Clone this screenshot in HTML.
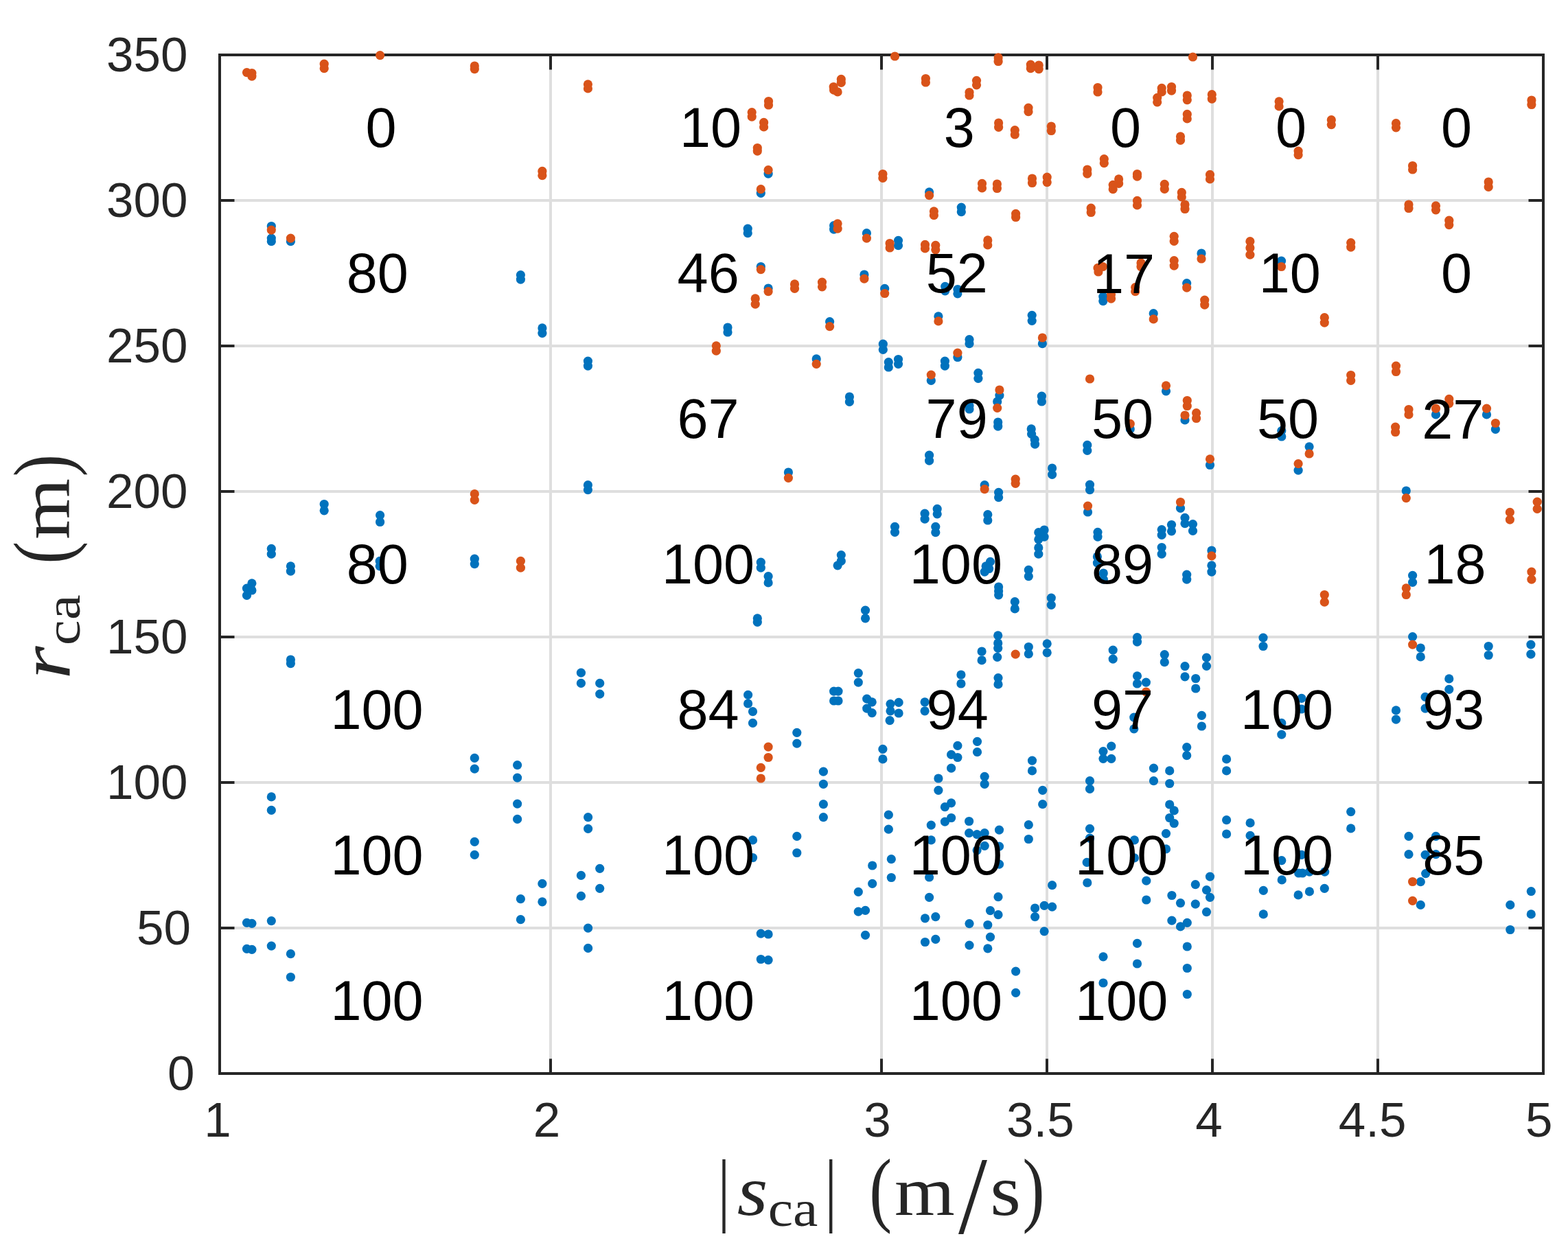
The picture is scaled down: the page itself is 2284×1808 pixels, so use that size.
<!DOCTYPE html><html><head><meta charset="utf-8"><style>html,body{margin:0;padding:0;background:#fff;overflow:hidden}svg{display:block}</style></head><body>
<svg width="2284" height="1808" viewBox="0 0 2284 1808">
<rect width="100%" height="100%" fill="#fff"/>
<path d="M802.0 80V1564M1284.0 80V1564M1525.0 80V1564M1766.0 80V1564M2007.0 80V1564M320 1352.0H2248M320 1140.0H2248M320 928.0H2248M320 716.0H2248M320 504.0H2248M320 292.0H2248" stroke="#dedede" stroke-width="4" fill="none"/>
<path d="M320 80H2248V1564H320Z" stroke="#262626" stroke-width="4" fill="none" stroke-linecap="square"/>
<path d="M802.0 1564v-21.5M802.0 80v21.5M1284.0 1564v-21.5M1284.0 80v21.5M1525.0 1564v-21.5M1525.0 80v21.5M1766.0 1564v-21.5M1766.0 80v21.5M2007.0 1564v-21.5M2007.0 80v21.5M320 1352.0h21.5M2248 1352.0h-21.5M320 1140.0h21.5M2248 1140.0h-21.5M320 928.0h21.5M2248 928.0h-21.5M320 716.0h21.5M2248 716.0h-21.5M320 504.0h21.5M2248 504.0h-21.5M320 292.0h21.5M2248 292.0h-21.5" stroke="#262626" stroke-width="4" fill="none"/>
<g fill="#0072bd"><circle cx="395.3" cy="329.5" r="6.6"/><circle cx="395.3" cy="347.1" r="6.6"/><circle cx="395.3" cy="351.7" r="6.6"/><circle cx="423.4" cy="351.7" r="6.6"/><circle cx="1089.2" cy="333.2" r="6.6"/><circle cx="1089.2" cy="339.7" r="6.6"/><circle cx="1119.1" cy="253.1" r="6.6"/><circle cx="1108.3" cy="281.3" r="6.6"/><circle cx="1353.6" cy="279.8" r="6.6"/><circle cx="1400.3" cy="302.1" r="6.6"/><circle cx="1400.3" cy="308.7" r="6.6"/><circle cx="1214.6" cy="328.6" r="6.6"/><circle cx="1214.6" cy="334.1" r="6.6"/><circle cx="1262.4" cy="339.7" r="6.6"/><circle cx="1308.5" cy="350.3" r="6.6"/><circle cx="1308.5" cy="357.7" r="6.6"/><circle cx="758.4" cy="400.6" r="6.6"/><circle cx="758.4" cy="407.1" r="6.6"/><circle cx="789.9" cy="477.9" r="6.6"/><circle cx="789.9" cy="485.3" r="6.6"/><circle cx="856.4" cy="526.1" r="6.6"/><circle cx="856.4" cy="533.1" r="6.6"/><circle cx="1060.0" cy="477.0" r="6.6"/><circle cx="1060.0" cy="484.0" r="6.6"/><circle cx="1108.3" cy="388.5" r="6.6"/><circle cx="1119.1" cy="420.0" r="6.6"/><circle cx="1258.9" cy="400.0" r="6.6"/><circle cx="1288.7" cy="420.4" r="6.6"/><circle cx="1376.7" cy="417.3" r="6.6"/><circle cx="1376.7" cy="423.8" r="6.6"/><circle cx="1394.9" cy="421.5" r="6.6"/><circle cx="1394.9" cy="427.8" r="6.6"/><circle cx="1208.6" cy="468.6" r="6.6"/><circle cx="1366.9" cy="460.8" r="6.6"/><circle cx="1286.3" cy="501.2" r="6.6"/><circle cx="1286.3" cy="509.4" r="6.6"/><circle cx="1412.0" cy="494.6" r="6.6"/><circle cx="1412.0" cy="500.7" r="6.6"/><circle cx="1189.2" cy="522.9" r="6.6"/><circle cx="1294.3" cy="527.6" r="6.6"/><circle cx="1294.3" cy="535.0" r="6.6"/><circle cx="1308.5" cy="523.5" r="6.6"/><circle cx="1308.5" cy="530.3" r="6.6"/><circle cx="1394.9" cy="520.5" r="6.6"/><circle cx="1376.4" cy="526.1" r="6.6"/><circle cx="1376.4" cy="533.1" r="6.6"/><circle cx="1356.3" cy="554.4" r="6.6"/><circle cx="1424.9" cy="543.3" r="6.6"/><circle cx="1424.9" cy="551.3" r="6.6"/><circle cx="1237.4" cy="578.0" r="6.6"/><circle cx="1237.4" cy="585.4" r="6.6"/><circle cx="1455.9" cy="576.1" r="6.6"/><circle cx="1452.7" cy="585.0" r="6.6"/><circle cx="1412.0" cy="591.0" r="6.6"/><circle cx="1412.0" cy="596.0" r="6.6"/><circle cx="1453.7" cy="615.0" r="6.6"/><circle cx="1453.7" cy="621.2" r="6.6"/><circle cx="1353.6" cy="663.2" r="6.6"/><circle cx="1353.6" cy="671.2" r="6.6"/><circle cx="1606.8" cy="432.1" r="6.6"/><circle cx="1606.8" cy="438.6" r="6.6"/><circle cx="1750.0" cy="369.0" r="6.6"/><circle cx="1866.5" cy="380.2" r="6.6"/><circle cx="1728.7" cy="412.6" r="6.6"/><circle cx="1680.2" cy="456.7" r="6.6"/><circle cx="1503.2" cy="459.3" r="6.6"/><circle cx="1503.2" cy="467.3" r="6.6"/><circle cx="1518.4" cy="500.7" r="6.6"/><circle cx="1698.5" cy="569.8" r="6.6"/><circle cx="1517.4" cy="577.2" r="6.6"/><circle cx="1517.4" cy="585.0" r="6.6"/><circle cx="1726.0" cy="611.9" r="6.6"/><circle cx="1646.3" cy="624.9" r="6.6"/><circle cx="1502.2" cy="624.9" r="6.6"/><circle cx="1502.6" cy="632.3" r="6.6"/><circle cx="1507.2" cy="640.6" r="6.6"/><circle cx="1507.6" cy="647.1" r="6.6"/><circle cx="1583.8" cy="648.4" r="6.6"/><circle cx="1583.8" cy="656.4" r="6.6"/><circle cx="1866.8" cy="627.6" r="6.6"/><circle cx="1866.8" cy="636.0" r="6.6"/><circle cx="2091.5" cy="603.9" r="6.6"/><circle cx="2165.5" cy="603.9" r="6.6"/><circle cx="2178.4" cy="625.4" r="6.6"/><circle cx="1907.1" cy="650.8" r="6.6"/><circle cx="472.2" cy="734.5" r="6.6"/><circle cx="472.2" cy="743.8" r="6.6"/><circle cx="553.6" cy="750.6" r="6.6"/><circle cx="553.6" cy="760.5" r="6.6"/><circle cx="395.3" cy="799.4" r="6.6"/><circle cx="395.3" cy="807.2" r="6.6"/><circle cx="423.4" cy="824.8" r="6.6"/><circle cx="423.4" cy="832.2" r="6.6"/><circle cx="553.2" cy="817.4" r="6.6"/><circle cx="553.2" cy="824.8" r="6.6"/><circle cx="691.3" cy="814.2" r="6.6"/><circle cx="691.3" cy="821.6" r="6.6"/><circle cx="366.9" cy="849.8" r="6.6"/><circle cx="366.9" cy="860.0" r="6.6"/><circle cx="359.5" cy="857.2" r="6.6"/><circle cx="359.5" cy="867.4" r="6.6"/><circle cx="423.4" cy="961.0" r="6.6"/><circle cx="423.4" cy="966.6" r="6.6"/><circle cx="856.4" cy="706.7" r="6.6"/><circle cx="856.4" cy="713.6" r="6.6"/><circle cx="1148.4" cy="688.0" r="6.6"/><circle cx="1434.2" cy="706.7" r="6.6"/><circle cx="1454.6" cy="717.3" r="6.6"/><circle cx="1454.6" cy="724.7" r="6.6"/><circle cx="1303.5" cy="767.3" r="6.6"/><circle cx="1303.5" cy="775.3" r="6.6"/><circle cx="1347.1" cy="748.2" r="6.6"/><circle cx="1347.1" cy="756.2" r="6.6"/><circle cx="1365.2" cy="741.4" r="6.6"/><circle cx="1365.2" cy="748.8" r="6.6"/><circle cx="1362.8" cy="767.3" r="6.6"/><circle cx="1362.8" cy="775.7" r="6.6"/><circle cx="1438.8" cy="749.7" r="6.6"/><circle cx="1438.8" cy="758.0" r="6.6"/><circle cx="1108.3" cy="819.2" r="6.6"/><circle cx="1108.3" cy="827.2" r="6.6"/><circle cx="1119.1" cy="839.6" r="6.6"/><circle cx="1119.1" cy="848.9" r="6.6"/><circle cx="1225.3" cy="808.6" r="6.6"/><circle cx="1225.3" cy="817.4" r="6.6"/><circle cx="1220.1" cy="823.8" r="6.6"/><circle cx="1442.5" cy="818.3" r="6.6"/><circle cx="1436.1" cy="824.8" r="6.6"/><circle cx="1440.7" cy="828.5" r="6.6"/><circle cx="1434.2" cy="833.1" r="6.6"/><circle cx="1454.6" cy="855.0" r="6.6"/><circle cx="1454.6" cy="861.0" r="6.6"/><circle cx="1454.6" cy="866.8" r="6.6"/><circle cx="1478.3" cy="876.7" r="6.6"/><circle cx="1478.3" cy="886.9" r="6.6"/><circle cx="1103.3" cy="900.8" r="6.6"/><circle cx="1103.3" cy="906.3" r="6.6"/><circle cx="1260.5" cy="889.1" r="6.6"/><circle cx="1260.5" cy="900.8" r="6.6"/><circle cx="1453.7" cy="925.8" r="6.6"/><circle cx="1453.7" cy="936.9" r="6.6"/><circle cx="1453.7" cy="944.3" r="6.6"/><circle cx="1452.7" cy="957.3" r="6.6"/><circle cx="1430.1" cy="949.0" r="6.6"/><circle cx="1430.1" cy="961.9" r="6.6"/><circle cx="1762.5" cy="677.5" r="6.6"/><circle cx="1532.6" cy="682.0" r="6.6"/><circle cx="1532.6" cy="691.3" r="6.6"/><circle cx="1587.5" cy="706.1" r="6.6"/><circle cx="1587.5" cy="713.6" r="6.6"/><circle cx="1584.5" cy="746.0" r="6.6"/><circle cx="1719.5" cy="740.4" r="6.6"/><circle cx="1726.0" cy="754.3" r="6.6"/><circle cx="1726.0" cy="762.7" r="6.6"/><circle cx="1737.5" cy="763.6" r="6.6"/><circle cx="1737.5" cy="773.4" r="6.6"/><circle cx="1706.5" cy="764.5" r="6.6"/><circle cx="1706.5" cy="773.8" r="6.6"/><circle cx="1692.2" cy="771.6" r="6.6"/><circle cx="1692.2" cy="779.4" r="6.6"/><circle cx="1692.2" cy="797.5" r="6.6"/><circle cx="1692.2" cy="807.2" r="6.6"/><circle cx="1521.1" cy="772.0" r="6.6"/><circle cx="1521.1" cy="782.1" r="6.6"/><circle cx="1512.8" cy="775.7" r="6.6"/><circle cx="1512.8" cy="785.8" r="6.6"/><circle cx="1512.8" cy="797.9" r="6.6"/><circle cx="1512.8" cy="807.2" r="6.6"/><circle cx="1599.0" cy="775.3" r="6.6"/><circle cx="1599.0" cy="782.1" r="6.6"/><circle cx="1598.4" cy="810.9" r="6.6"/><circle cx="1598.4" cy="820.1" r="6.6"/><circle cx="1607.3" cy="835.0" r="6.6"/><circle cx="1607.3" cy="844.2" r="6.6"/><circle cx="1764.9" cy="802.0" r="6.6"/><circle cx="1764.9" cy="823.8" r="6.6"/><circle cx="1764.9" cy="833.1" r="6.6"/><circle cx="1728.7" cy="837.2" r="6.6"/><circle cx="1728.7" cy="844.2" r="6.6"/><circle cx="1498.3" cy="830.3" r="6.6"/><circle cx="1498.3" cy="839.6" r="6.6"/><circle cx="1531.3" cy="871.1" r="6.6"/><circle cx="1531.3" cy="881.3" r="6.6"/><circle cx="1656.5" cy="928.6" r="6.6"/><circle cx="1656.5" cy="935.1" r="6.6"/><circle cx="1840.0" cy="929.1" r="6.6"/><circle cx="1840.0" cy="941.5" r="6.6"/><circle cx="1498.3" cy="942.5" r="6.6"/><circle cx="1498.3" cy="952.7" r="6.6"/><circle cx="1525.2" cy="937.8" r="6.6"/><circle cx="1525.2" cy="950.8" r="6.6"/><circle cx="1621.2" cy="947.1" r="6.6"/><circle cx="1621.2" cy="960.1" r="6.6"/><circle cx="1696.3" cy="953.6" r="6.6"/><circle cx="1696.3" cy="964.7" r="6.6"/><circle cx="1726.0" cy="970.6" r="6.6"/><circle cx="1757.5" cy="958.2" r="6.6"/><circle cx="1757.5" cy="970.3" r="6.6"/><circle cx="1891.1" cy="685.2" r="6.6"/><circle cx="2048.3" cy="715.0" r="6.6"/><circle cx="2057.6" cy="838.3" r="6.6"/><circle cx="2057.6" cy="848.3" r="6.6"/><circle cx="2057.6" cy="927.6" r="6.6"/><circle cx="2069.3" cy="944.0" r="6.6"/><circle cx="2069.3" cy="956.9" r="6.6"/><circle cx="2168.2" cy="941.5" r="6.6"/><circle cx="2168.2" cy="954.5" r="6.6"/><circle cx="2229.9" cy="939.1" r="6.6"/><circle cx="2229.9" cy="953.2" r="6.6"/><circle cx="691.3" cy="1104.4" r="6.6"/><circle cx="691.3" cy="1120.1" r="6.6"/><circle cx="395.3" cy="1160.9" r="6.6"/><circle cx="395.3" cy="1180.4" r="6.6"/><circle cx="691.3" cy="1226.3" r="6.6"/><circle cx="691.3" cy="1245.3" r="6.6"/><circle cx="846.4" cy="980.2" r="6.6"/><circle cx="846.4" cy="995.4" r="6.6"/><circle cx="873.7" cy="995.4" r="6.6"/><circle cx="873.7" cy="1011.1" r="6.6"/><circle cx="1089.6" cy="1012.3" r="6.6"/><circle cx="1089.6" cy="1025.0" r="6.6"/><circle cx="1096.5" cy="1036.7" r="6.6"/><circle cx="1096.5" cy="1053.4" r="6.6"/><circle cx="753.6" cy="1114.6" r="6.6"/><circle cx="753.6" cy="1133.1" r="6.6"/><circle cx="753.6" cy="1171.1" r="6.6"/><circle cx="753.6" cy="1193.4" r="6.6"/><circle cx="856.6" cy="1190.6" r="6.6"/><circle cx="856.6" cy="1207.3" r="6.6"/><circle cx="1096.5" cy="1223.9" r="6.6"/><circle cx="1096.5" cy="1249.5" r="6.6"/><circle cx="873.7" cy="1265.3" r="6.6"/><circle cx="1250.3" cy="980.6" r="6.6"/><circle cx="1250.3" cy="994.1" r="6.6"/><circle cx="1214.6" cy="1007.1" r="6.6"/><circle cx="1221.0" cy="1007.1" r="6.6"/><circle cx="1214.6" cy="1021.0" r="6.6"/><circle cx="1221.0" cy="1021.0" r="6.6"/><circle cx="1262.7" cy="1018.2" r="6.6"/><circle cx="1270.2" cy="1022.8" r="6.6"/><circle cx="1262.7" cy="1032.1" r="6.6"/><circle cx="1270.2" cy="1038.6" r="6.6"/><circle cx="1297.0" cy="1025.6" r="6.6"/><circle cx="1309.1" cy="1023.4" r="6.6"/><circle cx="1297.0" cy="1035.8" r="6.6"/><circle cx="1309.1" cy="1039.0" r="6.6"/><circle cx="1296.1" cy="1049.7" r="6.6"/><circle cx="1347.1" cy="1022.8" r="6.6"/><circle cx="1347.1" cy="1035.8" r="6.6"/><circle cx="1399.9" cy="983.0" r="6.6"/><circle cx="1399.9" cy="996.0" r="6.6"/><circle cx="1454.0" cy="987.6" r="6.6"/><circle cx="1454.0" cy="996.9" r="6.6"/><circle cx="1160.8" cy="1067.3" r="6.6"/><circle cx="1160.8" cy="1083.1" r="6.6"/><circle cx="1285.9" cy="1091.4" r="6.6"/><circle cx="1285.9" cy="1105.9" r="6.6"/><circle cx="1394.9" cy="1086.4" r="6.6"/><circle cx="1385.6" cy="1099.4" r="6.6"/><circle cx="1394.9" cy="1103.5" r="6.6"/><circle cx="1385.6" cy="1119.2" r="6.6"/><circle cx="1423.5" cy="1080.3" r="6.6"/><circle cx="1423.5" cy="1095.7" r="6.6"/><circle cx="1199.4" cy="1124.2" r="6.6"/><circle cx="1199.4" cy="1142.4" r="6.6"/><circle cx="1366.9" cy="1134.0" r="6.6"/><circle cx="1366.9" cy="1151.3" r="6.6"/><circle cx="1434.2" cy="1131.3" r="6.6"/><circle cx="1434.2" cy="1142.4" r="6.6"/><circle cx="1199.4" cy="1171.7" r="6.6"/><circle cx="1199.4" cy="1190.6" r="6.6"/><circle cx="1385.6" cy="1169.8" r="6.6"/><circle cx="1376.4" cy="1175.7" r="6.6"/><circle cx="1385.6" cy="1191.5" r="6.6"/><circle cx="1376.4" cy="1197.1" r="6.6"/><circle cx="1294.3" cy="1187.2" r="6.6"/><circle cx="1294.3" cy="1208.2" r="6.6"/><circle cx="1356.3" cy="1202.1" r="6.6"/><circle cx="1356.3" cy="1223.9" r="6.6"/><circle cx="1411.6" cy="1196.5" r="6.6"/><circle cx="1411.6" cy="1213.7" r="6.6"/><circle cx="1423.1" cy="1215.6" r="6.6"/><circle cx="1434.2" cy="1213.7" r="6.6"/><circle cx="1434.2" cy="1232.3" r="6.6"/><circle cx="1423.1" cy="1238.8" r="6.6"/><circle cx="1455.5" cy="1209.1" r="6.6"/><circle cx="1455.5" cy="1233.2" r="6.6"/><circle cx="1455.5" cy="1259.2" r="6.6"/><circle cx="1160.8" cy="1218.4" r="6.6"/><circle cx="1160.8" cy="1242.5" r="6.6"/><circle cx="1298.3" cy="1251.7" r="6.6"/><circle cx="1270.7" cy="1261.0" r="6.6"/><circle cx="1656.5" cy="984.8" r="6.6"/><circle cx="1656.5" cy="996.0" r="6.6"/><circle cx="1669.4" cy="994.1" r="6.6"/><circle cx="1726.0" cy="985.8" r="6.6"/><circle cx="1741.7" cy="988.5" r="6.6"/><circle cx="1741.7" cy="1003.0" r="6.6"/><circle cx="1651.8" cy="1045.1" r="6.6"/><circle cx="1651.8" cy="1061.8" r="6.6"/><circle cx="1750.4" cy="1042.3" r="6.6"/><circle cx="1750.4" cy="1058.0" r="6.6"/><circle cx="1866.8" cy="1053.4" r="6.6"/><circle cx="1866.8" cy="1070.1" r="6.6"/><circle cx="1618.8" cy="1087.1" r="6.6"/><circle cx="1607.0" cy="1094.6" r="6.6"/><circle cx="1618.8" cy="1105.3" r="6.6"/><circle cx="1607.0" cy="1105.3" r="6.6"/><circle cx="1728.7" cy="1088.6" r="6.6"/><circle cx="1728.7" cy="1100.7" r="6.6"/><circle cx="1503.5" cy="1108.1" r="6.6"/><circle cx="1503.5" cy="1122.9" r="6.6"/><circle cx="1786.6" cy="1105.9" r="6.6"/><circle cx="1786.6" cy="1122.9" r="6.6"/><circle cx="1680.5" cy="1119.2" r="6.6"/><circle cx="1680.5" cy="1137.7" r="6.6"/><circle cx="1703.7" cy="1122.9" r="6.6"/><circle cx="1703.7" cy="1141.5" r="6.6"/><circle cx="1587.5" cy="1137.7" r="6.6"/><circle cx="1587.5" cy="1149.4" r="6.6"/><circle cx="1518.7" cy="1151.3" r="6.6"/><circle cx="1518.7" cy="1171.7" r="6.6"/><circle cx="1703.7" cy="1172.0" r="6.6"/><circle cx="1710.2" cy="1180.9" r="6.6"/><circle cx="1703.7" cy="1191.5" r="6.6"/><circle cx="1710.2" cy="1199.5" r="6.6"/><circle cx="1698.5" cy="1214.3" r="6.6"/><circle cx="1698.5" cy="1236.9" r="6.6"/><circle cx="1498.3" cy="1201.7" r="6.6"/><circle cx="1498.3" cy="1222.5" r="6.6"/><circle cx="1587.5" cy="1207.3" r="6.6"/><circle cx="1587.5" cy="1221.2" r="6.6"/><circle cx="1652.4" cy="1223.9" r="6.6"/><circle cx="1652.4" cy="1249.9" r="6.6"/><circle cx="1583.2" cy="1256.4" r="6.6"/><circle cx="1786.6" cy="1194.7" r="6.6"/><circle cx="1786.6" cy="1215.0" r="6.6"/><circle cx="1821.1" cy="1198.9" r="6.6"/><circle cx="1821.1" cy="1217.4" r="6.6"/><circle cx="1866.8" cy="1253.6" r="6.6"/><circle cx="1895.9" cy="1017.3" r="6.6"/><circle cx="1895.9" cy="1033.0" r="6.6"/><circle cx="2110.8" cy="988.9" r="6.6"/><circle cx="2110.8" cy="1004.3" r="6.6"/><circle cx="2076.1" cy="1015.4" r="6.6"/><circle cx="2076.1" cy="1032.1" r="6.6"/><circle cx="2033.5" cy="1034.9" r="6.6"/><circle cx="2033.5" cy="1048.2" r="6.6"/><circle cx="1967.7" cy="1182.6" r="6.6"/><circle cx="1967.7" cy="1206.9" r="6.6"/><circle cx="2052.0" cy="1218.4" r="6.6"/><circle cx="2052.0" cy="1244.7" r="6.6"/><circle cx="2091.5" cy="1218.4" r="6.6"/><circle cx="2091.5" cy="1244.7" r="6.6"/><circle cx="2076.1" cy="1245.3" r="6.6"/><circle cx="1895.9" cy="1245.3" r="6.6"/><circle cx="359.5" cy="1344.3" r="6.6"/><circle cx="366.9" cy="1345.3" r="6.6"/><circle cx="395.3" cy="1341.6" r="6.6"/><circle cx="359.5" cy="1382.3" r="6.6"/><circle cx="366.9" cy="1383.3" r="6.6"/><circle cx="395.3" cy="1378.1" r="6.6"/><circle cx="423.4" cy="1389.7" r="6.6"/><circle cx="423.4" cy="1423.5" r="6.6"/><circle cx="758.4" cy="1309.7" r="6.6"/><circle cx="758.4" cy="1339.7" r="6.6"/><circle cx="789.9" cy="1287.4" r="6.6"/><circle cx="789.9" cy="1313.8" r="6.6"/><circle cx="846.4" cy="1275.4" r="6.6"/><circle cx="846.4" cy="1305.4" r="6.6"/><circle cx="873.7" cy="1294.3" r="6.6"/><circle cx="856.6" cy="1352.1" r="6.6"/><circle cx="856.6" cy="1381.4" r="6.6"/><circle cx="1108.3" cy="1360.1" r="6.6"/><circle cx="1119.1" cy="1361.0" r="6.6"/><circle cx="1108.3" cy="1397.5" r="6.6"/><circle cx="1119.1" cy="1398.6" r="6.6"/><circle cx="1270.7" cy="1287.4" r="6.6"/><circle cx="1250.3" cy="1299.3" r="6.6"/><circle cx="1250.3" cy="1328.2" r="6.6"/><circle cx="1260.5" cy="1326.4" r="6.6"/><circle cx="1260.5" cy="1362.3" r="6.6"/><circle cx="1298.3" cy="1278.5" r="6.6"/><circle cx="1353.6" cy="1278.0" r="6.6"/><circle cx="1353.6" cy="1307.3" r="6.6"/><circle cx="1347.5" cy="1337.8" r="6.6"/><circle cx="1362.8" cy="1335.6" r="6.6"/><circle cx="1347.5" cy="1372.5" r="6.6"/><circle cx="1362.8" cy="1368.4" r="6.6"/><circle cx="1454.0" cy="1306.7" r="6.6"/><circle cx="1442.5" cy="1326.7" r="6.6"/><circle cx="1454.0" cy="1332.7" r="6.6"/><circle cx="1412.0" cy="1345.6" r="6.6"/><circle cx="1412.0" cy="1377.1" r="6.6"/><circle cx="1438.8" cy="1347.5" r="6.6"/><circle cx="1442.5" cy="1365.1" r="6.6"/><circle cx="1438.8" cy="1381.8" r="6.6"/><circle cx="1479.6" cy="1415.1" r="6.6"/><circle cx="1479.6" cy="1446.3" r="6.6"/><circle cx="1583.8" cy="1286.0" r="6.6"/><circle cx="1532.6" cy="1289.7" r="6.6"/><circle cx="1507.6" cy="1323.0" r="6.6"/><circle cx="1507.6" cy="1335.6" r="6.6"/><circle cx="1521.1" cy="1319.3" r="6.6"/><circle cx="1532.6" cy="1321.2" r="6.6"/><circle cx="1521.1" cy="1356.8" r="6.6"/><circle cx="1669.8" cy="1283.2" r="6.6"/><circle cx="1669.8" cy="1311.0" r="6.6"/><circle cx="1706.9" cy="1304.5" r="6.6"/><circle cx="1719.5" cy="1315.6" r="6.6"/><circle cx="1741.3" cy="1288.7" r="6.6"/><circle cx="1741.3" cy="1317.1" r="6.6"/><circle cx="1762.5" cy="1277.1" r="6.6"/><circle cx="1757.5" cy="1296.7" r="6.6"/><circle cx="1762.5" cy="1307.3" r="6.6"/><circle cx="1757.5" cy="1328.6" r="6.6"/><circle cx="1706.9" cy="1341.2" r="6.6"/><circle cx="1719.5" cy="1349.9" r="6.6"/><circle cx="1729.3" cy="1344.3" r="6.6"/><circle cx="1656.5" cy="1374.4" r="6.6"/><circle cx="1656.5" cy="1404.0" r="6.6"/><circle cx="1607.0" cy="1393.8" r="6.6"/><circle cx="1607.0" cy="1432.0" r="6.6"/><circle cx="1729.3" cy="1379.0" r="6.6"/><circle cx="1729.3" cy="1410.5" r="6.6"/><circle cx="1729.3" cy="1448.5" r="6.6"/><circle cx="1840.3" cy="1297.4" r="6.6"/><circle cx="1840.3" cy="1331.9" r="6.6"/><circle cx="1867.2" cy="1281.9" r="6.6"/><circle cx="1891.7" cy="1272.0" r="6.6"/><circle cx="1897.2" cy="1272.0" r="6.6"/><circle cx="1907.4" cy="1270.2" r="6.6"/><circle cx="1929.7" cy="1270.2" r="6.6"/><circle cx="1891.1" cy="1303.9" r="6.6"/><circle cx="1907.4" cy="1298.9" r="6.6"/><circle cx="1929.3" cy="1294.3" r="6.6"/><circle cx="2076.7" cy="1272.6" r="6.6"/><circle cx="2069.3" cy="1284.7" r="6.6"/><circle cx="2069.3" cy="1318.4" r="6.6"/><circle cx="2230.3" cy="1298.6" r="6.6"/><circle cx="2230.3" cy="1331.9" r="6.6"/><circle cx="2199.8" cy="1318.4" r="6.6"/><circle cx="2199.8" cy="1354.5" r="6.6"/></g>
<g fill="#d95319"><circle cx="359.5" cy="105.6" r="6.6"/><circle cx="366.9" cy="106.5" r="6.6"/><circle cx="366.9" cy="111.1" r="6.6"/><circle cx="472.2" cy="93.2" r="6.6"/><circle cx="472.2" cy="99.7" r="6.6"/><circle cx="553.6" cy="80.6" r="6.6"/><circle cx="691.3" cy="96.0" r="6.6"/><circle cx="691.3" cy="100.6" r="6.6"/><circle cx="395.3" cy="335.1" r="6.6"/><circle cx="423.4" cy="347.1" r="6.6"/><circle cx="856.4" cy="122.8" r="6.6"/><circle cx="856.4" cy="128.9" r="6.6"/><circle cx="789.9" cy="249.4" r="6.6"/><circle cx="789.9" cy="255.7" r="6.6"/><circle cx="1095.2" cy="163.6" r="6.6"/><circle cx="1095.2" cy="170.1" r="6.6"/><circle cx="1303.5" cy="82.0" r="6.6"/><circle cx="1454.1" cy="83.9" r="6.6"/><circle cx="1454.1" cy="89.5" r="6.6"/><circle cx="1225.3" cy="115.4" r="6.6"/><circle cx="1225.3" cy="120.4" r="6.6"/><circle cx="1214.2" cy="126.5" r="6.6"/><circle cx="1214.6" cy="131.2" r="6.6"/><circle cx="1220.1" cy="133.9" r="6.6"/><circle cx="1119.5" cy="147.5" r="6.6"/><circle cx="1119.5" cy="153.0" r="6.6"/><circle cx="1348.4" cy="114.5" r="6.6"/><circle cx="1348.4" cy="120.0" r="6.6"/><circle cx="1422.5" cy="117.3" r="6.6"/><circle cx="1422.5" cy="123.8" r="6.6"/><circle cx="1412.0" cy="134.5" r="6.6"/><circle cx="1412.0" cy="139.0" r="6.6"/><circle cx="1112.6" cy="178.4" r="6.6"/><circle cx="1112.6" cy="184.9" r="6.6"/><circle cx="1103.3" cy="215.5" r="6.6"/><circle cx="1103.3" cy="220.1" r="6.6"/><circle cx="1454.6" cy="179.0" r="6.6"/><circle cx="1454.6" cy="185.3" r="6.6"/><circle cx="1478.3" cy="189.6" r="6.6"/><circle cx="1478.3" cy="196.0" r="6.6"/><circle cx="1119.1" cy="247.6" r="6.6"/><circle cx="1108.3" cy="275.7" r="6.6"/><circle cx="1285.9" cy="253.5" r="6.6"/><circle cx="1285.9" cy="259.4" r="6.6"/><circle cx="1353.6" cy="284.6" r="6.6"/><circle cx="1430.5" cy="267.4" r="6.6"/><circle cx="1430.5" cy="273.9" r="6.6"/><circle cx="1452.4" cy="268.0" r="6.6"/><circle cx="1452.4" cy="274.5" r="6.6"/><circle cx="1360.4" cy="307.8" r="6.6"/><circle cx="1360.4" cy="313.7" r="6.6"/><circle cx="1479.6" cy="311.3" r="6.6"/><circle cx="1479.6" cy="316.5" r="6.6"/><circle cx="1220.1" cy="325.8" r="6.6"/><circle cx="1220.1" cy="333.2" r="6.6"/><circle cx="1262.4" cy="347.1" r="6.6"/><circle cx="1296.1" cy="354.5" r="6.6"/><circle cx="1296.1" cy="361.0" r="6.6"/><circle cx="1347.5" cy="356.4" r="6.6"/><circle cx="1347.5" cy="361.9" r="6.6"/><circle cx="1362.8" cy="357.3" r="6.6"/><circle cx="1362.8" cy="363.8" r="6.6"/><circle cx="1438.8" cy="349.9" r="6.6"/><circle cx="1438.8" cy="356.9" r="6.6"/><circle cx="1501.3" cy="94.1" r="6.6"/><circle cx="1501.3" cy="99.7" r="6.6"/><circle cx="1513.2" cy="95.0" r="6.6"/><circle cx="1513.2" cy="100.6" r="6.6"/><circle cx="1498.0" cy="157.1" r="6.6"/><circle cx="1498.0" cy="162.7" r="6.6"/><circle cx="1737.5" cy="83.0" r="6.6"/><circle cx="1599.0" cy="127.5" r="6.6"/><circle cx="1599.0" cy="134.0" r="6.6"/><circle cx="1692.2" cy="128.4" r="6.6"/><circle cx="1692.2" cy="133.9" r="6.6"/><circle cx="1685.7" cy="142.3" r="6.6"/><circle cx="1685.7" cy="148.8" r="6.6"/><circle cx="1706.5" cy="126.5" r="6.6"/><circle cx="1706.5" cy="132.1" r="6.6"/><circle cx="1729.3" cy="139.0" r="6.6"/><circle cx="1729.3" cy="145.6" r="6.6"/><circle cx="1765.3" cy="137.7" r="6.6"/><circle cx="1765.3" cy="144.1" r="6.6"/><circle cx="1863.1" cy="147.8" r="6.6"/><circle cx="1863.1" cy="154.9" r="6.6"/><circle cx="1729.3" cy="166.4" r="6.6"/><circle cx="1729.3" cy="172.9" r="6.6"/><circle cx="1531.3" cy="184.0" r="6.6"/><circle cx="1531.3" cy="190.5" r="6.6"/><circle cx="1719.5" cy="198.8" r="6.6"/><circle cx="1719.5" cy="204.4" r="6.6"/><circle cx="1608.3" cy="231.6" r="6.6"/><circle cx="1608.3" cy="237.7" r="6.6"/><circle cx="1583.8" cy="247.0" r="6.6"/><circle cx="1583.8" cy="253.1" r="6.6"/><circle cx="1503.5" cy="260.0" r="6.6"/><circle cx="1503.5" cy="266.5" r="6.6"/><circle cx="1525.2" cy="258.1" r="6.6"/><circle cx="1525.2" cy="265.6" r="6.6"/><circle cx="1629.6" cy="260.9" r="6.6"/><circle cx="1629.6" cy="267.4" r="6.6"/><circle cx="1621.2" cy="269.3" r="6.6"/><circle cx="1621.2" cy="275.7" r="6.6"/><circle cx="1656.5" cy="253.5" r="6.6"/><circle cx="1656.5" cy="257.2" r="6.6"/><circle cx="1696.3" cy="268.3" r="6.6"/><circle cx="1696.3" cy="275.4" r="6.6"/><circle cx="1762.5" cy="254.4" r="6.6"/><circle cx="1762.5" cy="260.9" r="6.6"/><circle cx="1721.3" cy="280.4" r="6.6"/><circle cx="1721.3" cy="286.9" r="6.6"/><circle cx="1726.0" cy="298.0" r="6.6"/><circle cx="1726.0" cy="304.5" r="6.6"/><circle cx="1656.5" cy="292.4" r="6.6"/><circle cx="1656.5" cy="298.9" r="6.6"/><circle cx="1589.2" cy="303.2" r="6.6"/><circle cx="1589.2" cy="309.5" r="6.6"/><circle cx="1710.2" cy="344.3" r="6.6"/><circle cx="1710.2" cy="351.4" r="6.6"/><circle cx="1820.9" cy="351.7" r="6.6"/><circle cx="1820.9" cy="361.0" r="6.6"/><circle cx="1820.9" cy="371.2" r="6.6"/><circle cx="1939.3" cy="174.7" r="6.6"/><circle cx="1939.3" cy="181.6" r="6.6"/><circle cx="1891.1" cy="220.1" r="6.6"/><circle cx="1891.1" cy="225.7" r="6.6"/><circle cx="2033.5" cy="179.7" r="6.6"/><circle cx="2033.5" cy="185.8" r="6.6"/><circle cx="2230.9" cy="146.0" r="6.6"/><circle cx="2230.9" cy="152.5" r="6.6"/><circle cx="2057.6" cy="241.5" r="6.6"/><circle cx="2057.6" cy="247.0" r="6.6"/><circle cx="2168.2" cy="265.0" r="6.6"/><circle cx="2168.2" cy="272.4" r="6.6"/><circle cx="2052.0" cy="298.0" r="6.6"/><circle cx="2052.0" cy="303.5" r="6.6"/><circle cx="2091.5" cy="299.8" r="6.6"/><circle cx="2091.5" cy="305.8" r="6.6"/><circle cx="2110.8" cy="321.2" r="6.6"/><circle cx="2110.8" cy="327.6" r="6.6"/><circle cx="1967.7" cy="353.6" r="6.6"/><circle cx="1967.7" cy="360.1" r="6.6"/><circle cx="1043.3" cy="503.8" r="6.6"/><circle cx="1043.3" cy="511.2" r="6.6"/><circle cx="1108.3" cy="392.6" r="6.6"/><circle cx="1100.2" cy="434.9" r="6.6"/><circle cx="1100.2" cy="443.2" r="6.6"/><circle cx="1119.1" cy="424.7" r="6.6"/><circle cx="1157.5" cy="413.9" r="6.6"/><circle cx="1157.5" cy="420.4" r="6.6"/><circle cx="1197.5" cy="411.1" r="6.6"/><circle cx="1197.5" cy="417.8" r="6.6"/><circle cx="1258.9" cy="406.1" r="6.6"/><circle cx="1288.7" cy="427.5" r="6.6"/><circle cx="1208.6" cy="475.7" r="6.6"/><circle cx="1366.9" cy="467.9" r="6.6"/><circle cx="1189.2" cy="530.3" r="6.6"/><circle cx="1394.9" cy="514.2" r="6.6"/><circle cx="1356.3" cy="546.1" r="6.6"/><circle cx="1455.9" cy="568.0" r="6.6"/><circle cx="1452.7" cy="594.3" r="6.6"/><circle cx="1599.0" cy="390.4" r="6.6"/><circle cx="1599.9" cy="396.0" r="6.6"/><circle cx="1606.4" cy="388.5" r="6.6"/><circle cx="1662.0" cy="383.0" r="6.6"/><circle cx="1662.0" cy="388.5" r="6.6"/><circle cx="1653.7" cy="418.6" r="6.6"/><circle cx="1653.7" cy="424.7" r="6.6"/><circle cx="1618.5" cy="428.9" r="6.6"/><circle cx="1618.5" cy="435.2" r="6.6"/><circle cx="1710.2" cy="379.6" r="6.6"/><circle cx="1710.2" cy="387.1" r="6.6"/><circle cx="1750.0" cy="377.0" r="6.6"/><circle cx="1866.5" cy="388.5" r="6.6"/><circle cx="1728.7" cy="419.1" r="6.6"/><circle cx="1754.7" cy="437.1" r="6.6"/><circle cx="1754.7" cy="444.1" r="6.6"/><circle cx="1680.2" cy="464.9" r="6.6"/><circle cx="1518.4" cy="492.0" r="6.6"/><circle cx="1587.5" cy="552.0" r="6.6"/><circle cx="1698.5" cy="561.8" r="6.6"/><circle cx="1729.3" cy="583.5" r="6.6"/><circle cx="1729.3" cy="591.5" r="6.6"/><circle cx="1726.0" cy="605.0" r="6.6"/><circle cx="1742.6" cy="601.7" r="6.6"/><circle cx="1742.6" cy="609.5" r="6.6"/><circle cx="1646.3" cy="617.4" r="6.6"/><circle cx="1929.3" cy="462.7" r="6.6"/><circle cx="1929.3" cy="470.1" r="6.6"/><circle cx="1967.7" cy="546.5" r="6.6"/><circle cx="1967.7" cy="554.4" r="6.6"/><circle cx="2033.5" cy="533.1" r="6.6"/><circle cx="2033.5" cy="541.5" r="6.6"/><circle cx="2052.0" cy="596.5" r="6.6"/><circle cx="2052.0" cy="603.9" r="6.6"/><circle cx="2032.6" cy="622.1" r="6.6"/><circle cx="2032.6" cy="629.5" r="6.6"/><circle cx="2110.8" cy="581.3" r="6.6"/><circle cx="2110.8" cy="587.8" r="6.6"/><circle cx="2091.5" cy="595.2" r="6.6"/><circle cx="2165.5" cy="595.2" r="6.6"/><circle cx="2178.4" cy="616.5" r="6.6"/><circle cx="1907.1" cy="661.0" r="6.6"/><circle cx="691.3" cy="719.7" r="6.6"/><circle cx="691.3" cy="728.4" r="6.6"/><circle cx="758.4" cy="817.4" r="6.6"/><circle cx="758.4" cy="827.2" r="6.6"/><circle cx="1148.4" cy="696.3" r="6.6"/><circle cx="1434.2" cy="712.6" r="6.6"/><circle cx="1479.2" cy="698.2" r="6.6"/><circle cx="1479.2" cy="704.3" r="6.6"/><circle cx="1479.2" cy="953.2" r="6.6"/><circle cx="1762.5" cy="668.8" r="6.6"/><circle cx="1584.5" cy="737.1" r="6.6"/><circle cx="1719.5" cy="731.5" r="6.6"/><circle cx="1764.9" cy="809.9" r="6.6"/><circle cx="1891.1" cy="675.6" r="6.6"/><circle cx="2048.3" cy="725.6" r="6.6"/><circle cx="2199.4" cy="746.4" r="6.6"/><circle cx="2199.4" cy="757.1" r="6.6"/><circle cx="2239.2" cy="731.2" r="6.6"/><circle cx="2239.2" cy="741.4" r="6.6"/><circle cx="2048.3" cy="856.8" r="6.6"/><circle cx="2048.3" cy="866.5" r="6.6"/><circle cx="1929.3" cy="866.5" r="6.6"/><circle cx="1929.3" cy="877.2" r="6.6"/><circle cx="2230.9" cy="833.1" r="6.6"/><circle cx="2230.9" cy="844.2" r="6.6"/><circle cx="2057.6" cy="939.1" r="6.6"/><circle cx="1119.1" cy="1088.1" r="6.6"/><circle cx="1119.1" cy="1103.5" r="6.6"/><circle cx="1108.3" cy="1118.3" r="6.6"/><circle cx="1108.3" cy="1134.0" r="6.6"/><circle cx="1669.4" cy="1008.0" r="6.6"/><circle cx="2057.6" cy="1284.5" r="6.6"/><circle cx="2057.6" cy="1312.3" r="6.6"/></g>
<g font-family="Liberation Sans, Arial, sans-serif" font-size="71" fill="#262626">
<text x="297.2" y="1655.8">1</text>
<text x="776.7" y="1655.8">2</text>
<text x="1258.3" y="1655.8">3</text>
<text x="1466.1" y="1655.8">3.5</text>
<text x="1741.3" y="1655.8">4</text>
<text x="1949.8" y="1655.8">4.5</text>
<text x="2222.0" y="1655.8">5</text>
<text x="244.0" y="1587.8">0</text>
<text x="199.1" y="1375.8">50</text>
<text x="155.0" y="1163.8">100</text>
<text x="155.0" y="951.8">150</text>
<text x="155.0" y="739.8">200</text>
<text x="155.0" y="527.8">250</text>
<text x="155.0" y="315.8">300</text>
<text x="155.0" y="103.8">350</text>
</g>
<g font-family="Liberation Sans, Arial, sans-serif" font-size="81" fill="#000">
<text x="532.6" y="214.3">0</text>
<text x="990.0" y="214.3">10</text>
<text x="1374.7" y="214.3">3</text>
<text x="1617.0" y="214.3">0</text>
<text x="1858.1" y="214.3">0</text>
<text x="2099.1" y="214.3">0</text>
<text x="504.8" y="426.3">80</text>
<text x="986.6" y="426.3">46</text>
<text x="1348.7" y="426.3">52</text>
<text x="1592.0" y="426.8">17</text>
<text x="1833.7" y="426.3">10</text>
<text x="2099.1" y="426.3">0</text>
<text x="986.4" y="638.3">67</text>
<text x="1348.6" y="638.3">79</text>
<text x="1590.0" y="638.3">50</text>
<text x="1831.0" y="638.3">50</text>
<text x="2071.2" y="638.8">27</text>
<text x="504.8" y="850.3">80</text>
<text x="964.0" y="850.3">100</text>
<text x="1324.8" y="850.3">100</text>
<text x="1590.0" y="850.3">89</text>
<text x="2074.4" y="850.3">18</text>
<text x="481.4" y="1062.3">100</text>
<text x="986.5" y="1062.3">84</text>
<text x="1349.6" y="1062.3">94</text>
<text x="1590.0" y="1062.3">97</text>
<text x="1807.0" y="1062.3">100</text>
<text x="2072.2" y="1062.3">93</text>
<text x="481.4" y="1274.3">100</text>
<text x="964.0" y="1274.3">100</text>
<text x="1324.8" y="1274.3">100</text>
<text x="1566.1" y="1274.3">100</text>
<text x="1807.0" y="1274.3">100</text>
<text x="2072.2" y="1274.3">85</text>
<text x="481.4" y="1486.3">100</text>
<text x="964.0" y="1486.3">100</text>
<text x="1324.8" y="1486.3">100</text>
<text x="1566.1" y="1486.3">100</text>
</g>
<g font-family="Liberation Serif, 'Times New Roman', serif" fill="#262626">
<text transform="matrix(0.8000 0 0 1.0939 1045.70 1771.94)" font-size="109">|</text>
<text transform="matrix(1.0526 0 0 0.9442 1073.75 1769.96)" font-size="109" font-style="italic">s</text>
<text transform="matrix(1.0492 0 0 0.9500 1118.75 1786.05)" font-size="78">ca</text>
<text transform="matrix(0.8000 0 0 1.0939 1201.60 1771.94)" font-size="109">|</text>
<text transform="matrix(0.9069 0 0 1.1041 1266.37 1771.61)" font-size="109">(</text>
<text transform="matrix(1.0358 0 0 0.9385 1302.93 1770.10)" font-size="109">m</text>
<text transform="matrix(1.3867 0 0 1.4822 1396.10 1795.52)" font-size="109">/</text>
<text transform="matrix(1.0543 0 0 0.9692 1442.18 1770.13)" font-size="109">s</text>
<text transform="matrix(0.8828 0 0 1.1041 1489.45 1771.61)" font-size="109">)</text>
<text transform="matrix(0 -0.9000 1.0959 0 101.89 694.60)" font-size="109">)</text>
<text transform="matrix(0 -1.0506 0.9423 0 101.00 786.00)" font-size="109">m</text>
<text transform="matrix(0 -0.9000 1.0959 0 101.89 821.50)" font-size="109">(</text>
<text transform="matrix(0 -1.0662 0.9263 0 116.07 940.20)" font-size="78">ca</text>
<text transform="matrix(0 -1.1333 0.9615 0 100.94 989.43)" font-size="109" font-style="italic">r</text>
</g>
</svg></body></html>
